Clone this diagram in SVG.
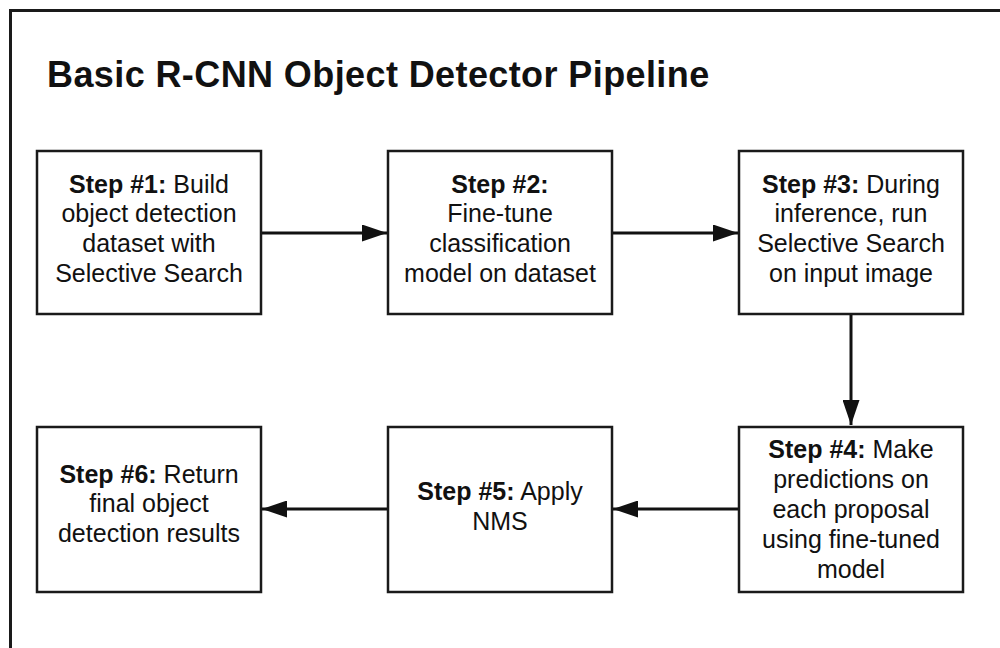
<svg xmlns="http://www.w3.org/2000/svg" width="1000" height="648" viewBox="0 0 1000 648">
<defs>
<style>
.box{fill:#fff;stroke:#1a1a1a;stroke-width:2.5}
.t{font-family:"Liberation Sans",Arial,sans-serif;font-size:25px;fill:#111;text-anchor:middle}
.b{font-weight:bold}
.title{font-family:"Liberation Sans",Arial,sans-serif;font-size:36px;font-weight:bold;fill:#111;letter-spacing:0.4px}
.conn{stroke:#111;stroke-width:3;fill:none}
</style>
<marker id="ah" markerWidth="25" markerHeight="17" refX="25" refY="8.5" orient="auto" markerUnits="userSpaceOnUse">
<path d="M0,0 L25,8.5 L0,17 Z" fill="#111"/>
</marker>
</defs>
<rect width="1000" height="648" fill="#fff"/>
<path d="M10.5,648 L10.5,10.5 L1000,10.5" fill="none" stroke="#1a1a1a" stroke-width="3"/>
<text class="title" x="47" y="87">Basic R-CNN Object Detector Pipeline</text>
<g id="connectors">
<line class="conn" x1="261" y1="233" x2="387" y2="233" marker-end="url(#ah)"/>
<line class="conn" x1="612" y1="233" x2="738" y2="233" marker-end="url(#ah)"/>
<line class="conn" x1="851" y1="314" x2="851" y2="425" marker-end="url(#ah)"/>
<line class="conn" x1="739" y1="509" x2="613" y2="509" marker-end="url(#ah)"/>
<line class="conn" x1="388" y1="509" x2="262" y2="509" marker-end="url(#ah)"/>
</g>
<g id="step1">
<rect class="box" x="37" y="151" width="224" height="163"/>
<text class="t" x="149" y="193"><tspan class="b">Step #1:</tspan> Build</text>
<text class="t" x="149" y="222">object detection</text>
<text class="t" x="149" y="252">dataset with</text>
<text class="t" x="149" y="282">Selective Search</text>
</g>
<g id="step2">
<rect class="box" x="388" y="151" width="224" height="163"/>
<text class="t b" x="500" y="193">Step #2:</text>
<text class="t" x="500" y="222">Fine-tune</text>
<text class="t" x="500" y="252">classification</text>
<text class="t" x="500" y="282">model on dataset</text>
</g>
<g id="step3">
<rect class="box" x="739" y="151" width="224" height="163"/>
<text class="t" x="851" y="193"><tspan class="b">Step #3:</tspan> During</text>
<text class="t" x="851" y="222">inference, run</text>
<text class="t" x="851" y="252">Selective Search</text>
<text class="t" x="851" y="282">on input image</text>
</g>
<g id="step4">
<rect class="box" x="739" y="427" width="224" height="165"/>
<text class="t" x="851" y="458"><tspan class="b">Step #4:</tspan> Make</text>
<text class="t" x="851" y="488">predictions on</text>
<text class="t" x="851" y="518">each proposal</text>
<text class="t" x="851" y="548">using fine-tuned</text>
<text class="t" x="851" y="578">model</text>
</g>
<g id="step5">
<rect class="box" x="388" y="427" width="224" height="165"/>
<text class="t" x="500" y="500"><tspan class="b">Step #5:</tspan> Apply</text>
<text class="t" x="500" y="530">NMS</text>
</g>
<g id="step6">
<rect class="box" x="37" y="427" width="224" height="165"/>
<text class="t" x="149" y="483"><tspan class="b">Step #6:</tspan> Return</text>
<text class="t" x="149" y="512">final object</text>
<text class="t" x="149" y="542">detection results</text>
</g>
</svg>
